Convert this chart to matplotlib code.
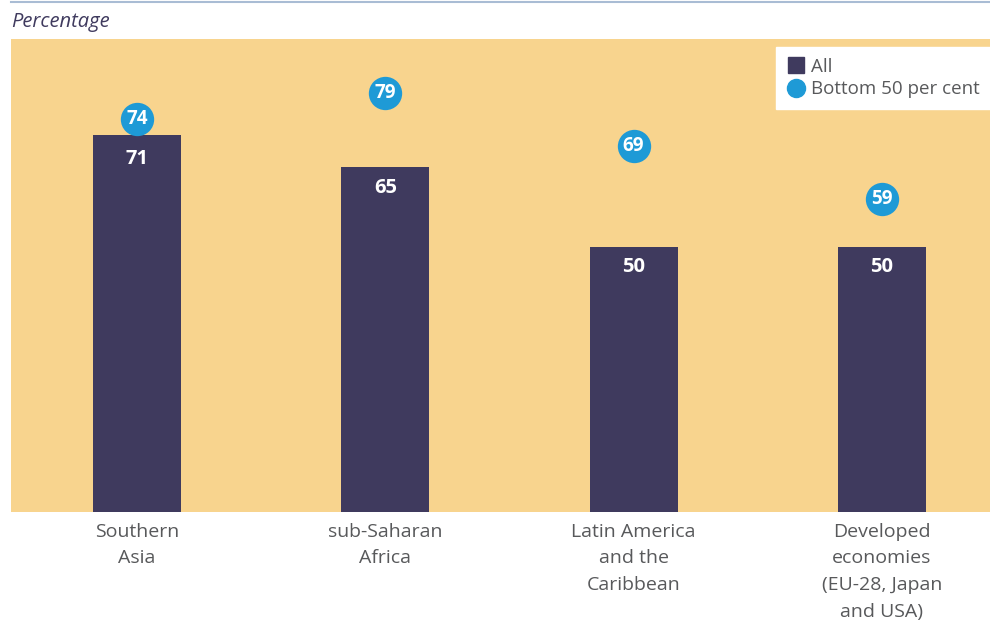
"""
Share of income / percentage by region: all vs bottom 50 per cent.
"""

import matplotlib
matplotlib.use("Agg")
import matplotlib.pyplot as plt
from matplotlib.lines import Line2D

# ----------------------------------------------------------------------------
# Data
# ----------------------------------------------------------------------------
categories = ["Southern\nAsia", "sub-Saharan\nAfrica", "Latin America\nand the\nCaribbean",
              "Developed\neconomies\n(EU-28, Japan\nand USA)"]
all_vals = [71, 65, 50, 50]
bottom50_vals = [74, 79, 69, 59]

BAR = "#3f3a5e"
DOT = "#1e9ad6"
BG = "#f8d48e"
TXT = "#58595b"

plt.rcParams['font.family'] = ['Open Sans', 'DejaVu Sans']

fig = plt.figure(figsize=(9.9, 6.22), dpi=100)
W, H = 990, 622
ax = fig.add_axes([11 / W, (H - 511.7) / H, (990 - 11) / W, 473 / H])
ax.set_facecolor(BG)

x = list(range(len(categories)))
bars = ax.bar(x, all_vals, width=0.354, color=BAR, zorder=2)

# value labels inside bars (first one pushed a bit lower, under the dot)
for i, (xi, v) in enumerate(zip(x, all_vals)):
    off = -17 if i == 0 else -15
    ax.annotate(f"{v}", (xi, v), xytext=(0, off), textcoords="offset points",
                ha="center", va="center", color="white", fontsize=14.5, weight="bold", zorder=4)

ax.plot(x, bottom50_vals, linestyle="none", marker="o", markersize=24,
        color=DOT, markeredgewidth=0, zorder=3)
for xi, v in zip(x, bottom50_vals):
    ax.text(xi, v, f"{v}", ha="center", va="center", color="white",
            fontsize=13.5, weight="bold", zorder=5)

ax.set_xlim(-0.507, 3.435)
ax.set_ylim(0, 89.2)
ax.set_xticks(x)
ax.set_xticklabels(categories, fontsize=14, color=TXT, linespacing=1.62)
ax.tick_params(axis="x", length=0, pad=8)
ax.set_yticks([])
for s in ax.spines.values():
    s.set_visible(False)

handles = [
    Line2D([], [], linestyle="none", marker="s", markersize=11, color=BAR, label="All"),
    Line2D([], [], linestyle="none", marker="o", markersize=13, color=DOT, label="Bottom 50 per cent"),
]
leg = ax.legend(handles=handles, loc="upper right", bbox_to_anchor=(1, 1 - 8.6 / 473),
                borderaxespad=0, fancybox=False, framealpha=1, edgecolor="white",
                fontsize=13.5, handletextpad=0.3, handlelength=1.0, labelspacing=0.25,
                borderpad=0.55)
for t in leg.get_texts():
    t.set_color(TXT)

# header: thin rule and italic unit label
fig.add_artist(Line2D([11 / W, 1], [1 - 1.5 / H, 1 - 1.5 / H], color="#a9bcd4", lw=1.5))
fig.text(11 / W, 1 - 22 / H, "Percentage", ha="left", va="center", style="italic",
         fontsize=14.5, color="#3f3a5e")

fig.savefig("out.png", dpi=100)
